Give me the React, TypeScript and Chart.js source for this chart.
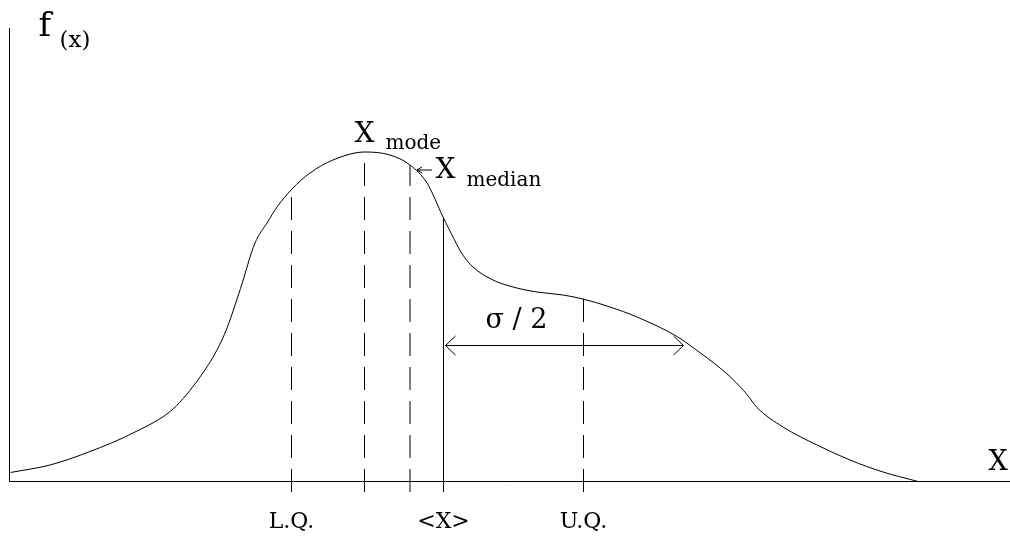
import { useEffect, useRef } from 'react';
import { Chart, registerables } from 'chart.js';

Chart.register(...registerables);

// Density curve f(x)
const curveX = [1, 40.5, 80.5, 123.5, 163.5, 190.5, 207.5, 217.5, 231, 245.5, 257.5, 267.5, 282.5, 300.5, 323.5, 355.5, 380.5, 400.5, 417.5, 433.5, 442.5, 452, 463.5, 483.5, 503.5, 527.5, 553.5, 573.5, 600.5, 627.5, 667.5, 687.5, 707.5, 723.5, 737.5, 747.5, 773.5, 807.5, 840.5, 873.5, 908.5];
const curveY = [9, 16.5, 30, 48.5, 72.5, 104.5, 131.5, 153.5, 193, 238.5, 258.5, 274.5, 292.5, 308.5, 321.5, 329.5, 326.5, 316.5, 298.5, 264.5, 246.5, 228.5, 214.5, 201.5, 194.5, 189.5, 186.5, 182.5, 174.5, 164.5, 145, 131, 116, 102, 87, 74, 54.5, 36.5, 21.5, 9.5, 0];

// Vertical markers: L.Q., mode, median, mean, U.Q.
const markerX = [282, 355, 400.5, 434, 574];
const markerTop = [292, 329.5, 316.5, 264.5, 182.5];
const markerDashed = [true, true, true, false, true];
const markerLabels = ['L.Q.', '', '', '<X>', 'U.Q.'];

// sigma/2 arrow
const sigmaStart = 436;
const sigmaEnd = 674;
const sigmaLevel = 136;

const FONT = '"DejaVu Serif", "Liberation Serif", serif';

const textLabels = [
  { text: 'f', x: 29, y: 446, size: 34 },
  { text: '(x)', x: 50, y: 435, size: 23 },
  { text: 'X', x: 345, y: 340, size: 28 },
  { text: 'mode', x: 376, y: 333, size: 20 },
  { text: 'X', x: 426, y: 304, size: 28 },
  { text: 'median', x: 457, y: 296, size: 20 },
  { text: 'σ / 2', x: 476, y: 154, size: 27 },
  { text: 'X', x: 979, y: 12, size: 27 },
];

const annotationPlugin = {
  id: 'annotations',
  afterDatasetsDraw(chart: any) {
    const { ctx, scales } = chart;
    const xs = scales.x;
    const ys = scales.y;
    const px = (v: number) => xs.getPixelForValue(v);
    const py = (v: number) => ys.getPixelForValue(v);
    ctx.save();
    ctx.strokeStyle = '#000';
    ctx.fillStyle = '#000';
    ctx.lineWidth = 1;
    // axes
    ctx.beginPath();
    ctx.moveTo(px(0), py(ys.max));
    ctx.lineTo(px(0), py(0));
    ctx.moveTo(px(0), py(0));
    ctx.lineTo(px(xs.max), py(0));
    ctx.stroke();
    // sigma arrow heads
    const a1 = px(sigmaStart);
    const a2 = px(sigmaEnd);
    const ay = py(sigmaLevel);
    ctx.beginPath();
    ctx.moveTo(a1 + 10, ay - 9.5);
    ctx.lineTo(a1, ay);
    ctx.lineTo(a1 + 10, ay + 9.5);
    ctx.moveTo(a2 - 10, ay - 9.5);
    ctx.lineTo(a2, ay);
    ctx.lineTo(a2 - 10, ay + 9.5);
    ctx.stroke();
    // median pointer arrow
    const m1 = px(407.5);
    const m2 = px(422.5);
    const my = py(311.5);
    ctx.beginPath();
    ctx.moveTo(m2, my);
    ctx.lineTo(m1, my);
    ctx.moveTo(m1 + 5, my - 3);
    ctx.lineTo(m1, my);
    ctx.lineTo(m1 + 5, my + 3);
    ctx.stroke();
    // text labels
    ctx.textBaseline = 'alphabetic';
    ctx.textAlign = 'left';
    for (const l of textLabels) {
      ctx.font = `${l.size}px ${FONT}`;
      ctx.fillText(l.text, px(l.x), py(l.y));
    }
    ctx.textAlign = 'center';
    ctx.font = `22px ${FONT}`;
    markerLabels.forEach((t, i) => {
      if (t) ctx.fillText(t, px(markerX[i]), py(-46));
    });
    ctx.restore();
  },
};

export default function App() {
  const ref = useRef<HTMLCanvasElement>(null);
  useEffect(() => {
    document.body.style.margin = '0';
    const datasets: any[] = [
      {
        label: 'f(x)',
        data: curveX.map((x, i) => ({ x, y: curveY[i] })),
        borderColor: '#000',
        borderWidth: 1,
        pointRadius: 0,
        showLine: true,
        cubicInterpolationMode: 'monotone',
        clip: false,
      },
      ...markerX.map((x, i) => ({
        label: 'marker' + i,
        data: [
          { x, y: -10.5 },
          { x, y: markerTop[i] },
        ],
        borderColor: '#000',
        borderWidth: 1,
        borderDash: markerDashed[i] ? [23, 11] : [],
        pointRadius: 0,
        showLine: true,
        clip: false,
      })),
      {
        label: 'sigma',
        data: [
          { x: sigmaStart, y: sigmaLevel },
          { x: sigmaEnd, y: sigmaLevel },
        ],
        borderColor: '#000',
        borderWidth: 1,
        pointRadius: 0,
        showLine: true,
        clip: false,
      },
    ];
    const chart = new Chart(ref.current!, {
      type: 'scatter',
      data: { datasets },
      options: {
        animation: false,
        responsive: false,
        devicePixelRatio: 1,
        layout: { padding: { left: 9, right: 0, top: 28, bottom: 44 } },
        plugins: { legend: { display: false }, tooltip: { enabled: false } },
        events: [],
        scales: {
          x: { type: 'linear', min: -0.5, max: 1000.5, display: false },
          y: { type: 'linear', min: -10.5, max: 453.5, display: false },
        },
      },
      plugins: [annotationPlugin],
    } as any);
    return () => chart.destroy();
  }, []);
  return (
    <div style={{ position: 'absolute', left: 0, top: 0, width: 1010, height: 536, background: '#fff' }}>
      <canvas ref={ref} width={1010} height={536} style={{ display: 'block' }} />
    </div>
  );
}
